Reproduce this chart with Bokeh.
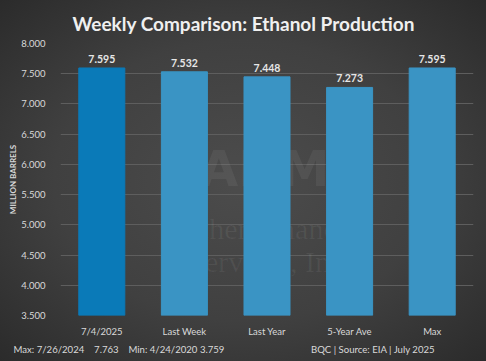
from bokeh.plotting import figure
from bokeh.models import ColumnDataSource, Label, FixedTicker, NumeralTickFormatter, Title
from bokeh.embed import file_html
from bokeh.resources import INLINE
from bokeh.core.properties import value

categories = ["7/4/2025", "Last Week", "Last Year", "5-Year Ave", "Max"]
values = [7.595, 7.532, 7.448, 7.273, 7.595]
bar_colors = ["#0a7ab8", "#3a94c4", "#3a94c4", "#3a94c4", "#3a94c4"]
labels = ["7.595", "7.532", "7.448", "7.273", "7.595"]
y_ticks = [3.5, 4.0, 4.5, 5.0, 5.5, 6.0, 6.5, 7.0, 7.5, 8.0]

title_text = "Weekly Comparison: Ethanol Production"
footer_left_parts = ["Max:", "7/26/2024", "7.763", "Min:", "4/24/2020", "3.759"]
footer_right = "BQC | Source: EIA | July 2025"

FONT = "Lato"
W, H = 486, 361
L, R, T, B = 60, 13, 43, 46
FB = H - B  # frame bottom in canvas px
NB = "\u00a0"
EM = "\u2003"


def sx(cx):
    return cx - L


def sy(cy):
    return FB - cy


src = ColumnDataSource(dict(cat=categories, val=values, color=bar_colors, lab=labels))

p = figure(x_range=categories, y_range=(3.5, 8.0), width=W, height=H,
           output_backend="svg", toolbar_location=None,
           min_border_left=L, min_border_right=R, min_border_top=T, min_border_bottom=B)
p.background_fill_alpha = 0
p.border_fill_alpha = 0
p.outline_line_color = None

# faint watermark (under the bars)
wm = dict(x_units="screen", y_units="screen", text_align="center", text_baseline="middle",
          text_color="#ffffff", text_alpha=0.06, level="underlay")
p.add_layout(Label(x=sx(264), y=sy(168), text="ADM", text_font="DejaVu Sans",
                   text_font_style="bold", text_font_size="50px", **wm))
p.add_layout(Label(x=sx(265), y=sy(228), text="Archer Financial", text_font="Liberation Serif",
                   text_font_size="30px", **wm))
p.add_layout(Label(x=sx(269), y=sy(261), text="Services, Inc.", text_font="Liberation Serif",
                   text_font_size="30px", **wm))

p.vbar(x="cat", top="val", bottom=3.5, width=0.557, color="color", source=src)
p.text(x="cat", y="val", text="lab", source=src, text_align="center", text_baseline="bottom",
       y_offset=-5, text_font=value(FONT), text_font_style="bold", text_font_size="10.5px",
       text_color="#e6e6e6")

p.xgrid.grid_line_color = None
p.ygrid.grid_line_color = "#5e5e5e"
p.ygrid.grid_line_width = 1

p.yaxis.ticker = FixedTicker(ticks=y_ticks)
p.yaxis.formatter = NumeralTickFormatter(format="0.000")
for ax in (p.xaxis[0], p.yaxis[0]):
    ax.axis_line_color = None
    ax.major_tick_line_color = None
    ax.minor_tick_line_color = None
    ax.major_label_text_color = "#d9d9d9"
    ax.major_label_text_font = FONT
    ax.major_label_text_font_size = "9.5px"
p.yaxis.major_label_standoff = 9
p.xaxis.major_label_standoff = 4
p.yaxis.axis_label = "MILLION BARRELS"
p.yaxis.axis_label_text_font = FONT
p.yaxis.axis_label_text_font_size = "8px"
p.yaxis.axis_label_text_font_style = "bold"
p.yaxis.axis_label_text_color = "#d9d9d9"
p.yaxis.axis_label_standoff = 0

# chart title
p.title.text = title_text
p.title.align = "left"
p.title.vertical_align = "middle"
p.title.offset = 72 - L
p.title.text_font = FONT
p.title.text_font_style = "bold"
p.title.text_font_size = "19px"
p.title.text_color = "#f0f0f0"
p.title.standoff = 15

# footer
left_str = (footer_left_parts[0] + NB * 1 + footer_left_parts[1] + NB * 4 + footer_left_parts[2]
            + NB * 4 + footer_left_parts[3] + NB * 1 + footer_left_parts[4] + NB * 1
            + footer_left_parts[5])
footer_text = left_str + EM * 11 + NB * 3 + footer_right
footer = Title(text=footer_text, align="left", offset=13 - L, standoff=4,
               text_font=FONT, text_font_size="9.6px", text_font_style="normal",
               text_color="#d9d9d9")
p.add_layout(footer, "below")

html = file_html(p, INLINE)
css = ("<style>html,body{margin:0;padding:0;width:486px;height:361px;overflow:hidden;"
       "background:radial-gradient(ellipse at 50% 50%, #4c4c4c 0%, #404040 55%, #2b2b2b 100%);}</style>")
html = html.replace("</head>", css + "</head>", 1)
open("out.html", "w").write(html)
